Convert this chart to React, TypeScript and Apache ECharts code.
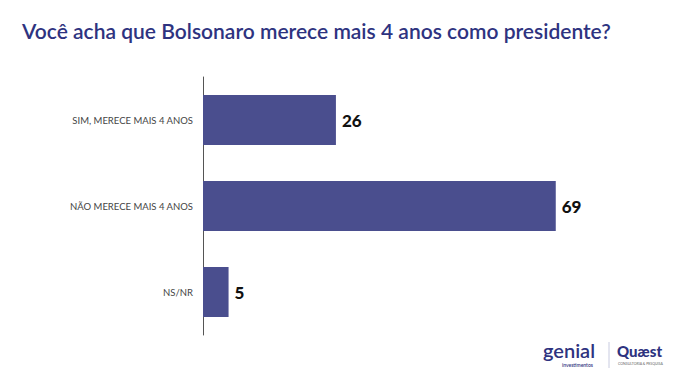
import React, { useEffect, useRef } from "react";
import * as echarts from "echarts";

const categories = ["SIM, MERECE MAIS 4 ANOS", "NÃO MERECE MAIS 4 ANOS", "NS/NR"];
const values = [26, 69, 5];
const title = "Você acha que Bolsonaro merece mais 4 anos como presidente?";

export default function App() {
  const ref = useRef<HTMLDivElement>(null);
  useEffect(() => {
    if (!ref.current) return;
    const chart = echarts.init(ref.current, null, { renderer: "svg" });
    chart.setOption({
      animation: false,
      backgroundColor: "#ffffff",
      title: {
        text: title,
        left: 17,
        top: 15,
        textStyle: {
          color: "#2e3380",
          fontFamily: "Lato",
          fontWeight: 600,
          fontSize: 21,
        },
      },
      grid: { left: 203, top: 77, width: 409, height: 258, containLabel: false },
      xAxis: {
        type: "value",
        min: 0,
        max: 80,
        show: false,
      },
      yAxis: {
        type: "category",
        data: categories,
        inverse: true,
        axisLine: { show: true, lineStyle: { color: "#555", width: 1 } },
        axisTick: { show: false },
        axisLabel: {
          color: "#444",
          fontFamily: "Lato",
          fontSize: 9.5,
          margin: 10,
        },
        splitLine: { show: false },
      },
      series: [
        {
          type: "bar",
          data: values,
          barWidth: 50,
          itemStyle: { color: "#4a4e8e" },
          label: {
            show: true,
            position: "right",
            distance: 6,
            color: "#111",
            fontFamily: "Lato",
            fontWeight: 900,
            fontSize: 17,
          },
        },
      ],
      graphic: [
        {
          type: "text",
          left: 543,
          top: 340,
          style: { text: "genial", fill: "#2e3380", font: "600 20px Lato" },
        },
        {
          type: "text",
          left: 562,
          top: 362,
          style: { text: "investimentos", fill: "#2e3380", font: "600 5px Lato" },
        },
        {
          type: "line",
          shape: { x1: 609, y1: 342, x2: 609, y2: 368 },
          style: { stroke: "#c8cbe0", lineWidth: 1 },
        },
        {
          type: "text",
          left: 617,
          top: 343,
          style: { text: "Quæst", fill: "#2e3380", font: "900 15px Lato" },
        },
        {
          type: "text",
          left: 618,
          top: 362,
          style: { text: "CONSULTORIA & PESQUISA", fill: "#666", font: "3.5px Lato" },
        },
      ],
    });
    return () => chart.dispose();
  }, []);
  return <div ref={ref} style={{ width: 679, height: 377, position: "absolute", left: 0, top: 0 }} />;
}
